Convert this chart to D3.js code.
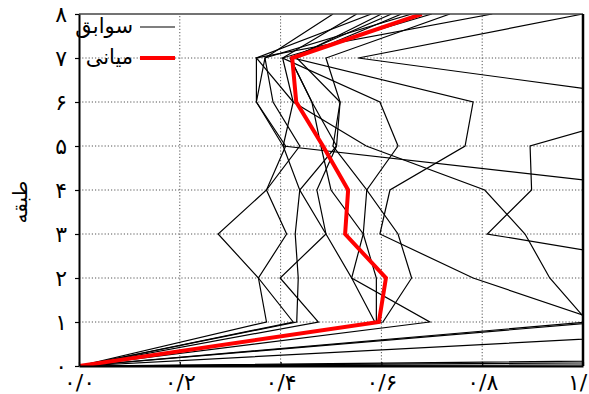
<!DOCTYPE html>
<html>
<head>
<meta charset="utf-8">
<script src="https://cdn.jsdelivr.net/npm/d3@7"></script>
<style>
  html, body { margin: 0; padding: 0; background: #fff; }
  svg { display: block; }
  text { font-family: "DejaVu Sans", sans-serif; fill: #000; }
</style>
</head>
<body>
<svg id="chart" width="589" height="394"></svg>
<script>
// Story levels (ground = 0) and their labels
const floors = [0, 1, 2, 3, 4, 5, 6, 7, 8];
const floorLabels = ["۰", "۱", "۲", "۳", "۴", "۵", "۶", "۷", "۸"];

// Horizontal axis ticks
const xTicks = [0, 0.2, 0.4, 0.6, 0.8, 1.0];
const xTickLabels = ["۰/۰", "۰/۲", "۰/۴", "۰/۶", "۰/۸", "۱/۰"];

// Individual record profiles, one value per floor (0..8)
const record01 = [0, 0.372, 0.356, 0.276, 0.372, 0.410, 0.352, 0.352, 0.580];
const record02 = [0, 0.425, 0.356, 0.412, 0.372, 0.438, 0.385, 0.369, 0.504];
const record03 = [0, 0.432, 0.435, 0.429, 0.438, 0.405, 0.425, 0.404, 0.551];
const record04 = [0, 0.475, 0.399, 0.490, 0.472, 0.511, 0.462, 0.419, 0.620];
const record05 = [0, 0.587, 0.541, 0.564, 0.571, 0.504, 0.518, 0.432, 0.640];
const record06 = [0, 0.603, 0.660, 0.633, 0.571, 0.633, 0.597, 0.404, 0.700];
const record07 = [0, 0.590, 0.590, 0.564, 0.500, 0.480, 0.462, 0.419, 0.680];
const record08 = [0, 0.696, 0.541, 0.490, 0.438, 0.511, 0.518, 0.490, 0.736];
const record09 = [0, 1.640, 1.340, 0.810, 0.898, 0.895, 1.200, 0.554, 1.000];
const record10 = [0, 1.010, 0.934, 0.885, 0.805, 0.570, 0.425, 0.352, 0.820];
const record11 = [0, 1.040, 0.782, 0.597, 0.617, 0.766, 0.782, 0.425, 0.600];
const record12 = [0, 9.000, 4.000, 2.500, 1.180, 0.405, 0.352, 0.369, 0.660];
const record13 = [0, 14.00, 8.000, 5.000, 3.000, 2.500, 2.200, 2.000, 1.800];
const record14 = [0, 40.00, 20.00, 10.00, 6.000, 4.000, 3.000, 2.500, 2.200];
const records = [record01, record02, record03, record04, record05, record06, record07,
                 record08, record09, record10, record11, record12, record13, record14];

// Median profile
const medianProfile = [0, 0.595, 0.609, 0.528, 0.534, 0.484, 0.431, 0.423, 0.680];

// Legend entries and titles
const legendRecords = "سوابق";
const legendMedian = "میانی";
const yTitle = "طبقه";

const svg = d3.select("#chart");
const margin = { left: 79, right: 6, top: 14, bottom: 28 };
const W = 589, H = 394;

const x = d3.scaleLinear().domain([0, 1]).range([margin.left, W - margin.right]);
const y = d3.scaleLinear().domain([0, 8]).range([H - margin.bottom, margin.top]);

// Clip region for the plot area
svg.append("defs").append("clipPath").attr("id", "plotClip")
  .append("rect")
  .attr("x", x(0)).attr("y", y(8))
  .attr("width", x(1) - x(0)).attr("height", y(0) - y(8));

// Dotted grid
const grid = svg.append("g").attr("class", "grid");
grid.selectAll("line.gx").data(xTicks.slice(1, -1)).join("line")
  .attr("x1", d => x(d)).attr("x2", d => x(d))
  .attr("y1", y(0)).attr("y2", y(8))
  .attr("stroke", "#555").attr("stroke-width", 1).attr("stroke-dasharray", "1.2,2");
grid.selectAll("line.gy").data(floors.slice(1, -1)).join("line")
  .attr("x1", x(0)).attr("x2", x(1))
  .attr("y1", d => y(d)).attr("y2", d => y(d))
  .attr("stroke", "#555").attr("stroke-width", 1).attr("stroke-dasharray", "1.2,2");

// Profile lines
const line = d3.line().x(d => x(d.v)).y(d => y(d.f));
const toPts = arr => arr.map((v, i) => ({ v, f: floors[i] }));

const plot = svg.append("g").attr("clip-path", "url(#plotClip)");
plot.selectAll("path.rec").data(records).join("path")
  .attr("class", "rec")
  .attr("d", d => line(toPts(d)))
  .attr("fill", "none").attr("stroke", "#000").attr("stroke-width", 1.2)
  .attr("stroke-linejoin", "miter");

plot.append("path")
  .attr("d", line(toPts(medianProfile)))
  .attr("fill", "none").attr("stroke", "#f00").attr("stroke-width", 4)
  .attr("stroke-linejoin", "miter");

// Frame
svg.append("line").attr("x1", x(0)).attr("x2", x(1)).attr("y1", y(8)).attr("y2", y(8))
  .attr("stroke", "#444").attr("stroke-width", 1.5);
svg.append("line").attr("x1", x(1)).attr("x2", x(1)).attr("y1", y(8)).attr("y2", y(0))
  .attr("stroke", "#000").attr("stroke-width", 2.5);

// Axes
const xAxis = d3.axisBottom(x).tickValues(xTicks).tickFormat((d, i) => xTickLabels[i])
  .tickSizeInner(-4).tickSizeOuter(0).tickPadding(8);
const gx = svg.append("g").attr("transform", `translate(0,${y(0)})`).call(xAxis);
gx.select(".domain").attr("stroke", "#000").attr("stroke-width", 2);
gx.selectAll(".tick line").attr("stroke", "#000").attr("stroke-width", 1.2);
gx.selectAll(".tick text").attr("font-size", 22).attr("font-family", "DejaVu Sans");

const yAxis = d3.axisLeft(y).tickValues(floors).tickFormat((d, i) => floorLabels[i])
  .tickSizeInner(4).tickSizeOuter(0).tickPadding(8);
const gy = svg.append("g").attr("transform", `translate(${x(0)},0)`).call(yAxis);
gy.select(".domain").attr("stroke", "#000").attr("stroke-width", 2);
gy.selectAll(".tick line").attr("stroke", "#000").attr("stroke-width", 1.2);
gy.selectAll(".tick text").attr("font-size", 22).attr("font-family", "DejaVu Sans");

// Y-axis title
svg.append("text")
  .attr("transform", `translate(27,${(y(0) + y(8)) / 2 + 12}) rotate(-90)`)
  .attr("text-anchor", "middle")
  .attr("font-size", 20)
  .text(yTitle);

// Legend
const legend = svg.append("g");
const legendItems = [
  { label: legendRecords, color: "#000", width: 1.2, yv: 27 },
  { label: legendMedian, color: "#f00", width: 4, yv: 58 }
];
legend.selectAll("line").data(legendItems).join("line")
  .attr("x1", 140).attr("x2", 175)
  .attr("y1", d => d.yv).attr("y2", d => d.yv)
  .attr("stroke", d => d.color).attr("stroke-width", d => d.width);
legend.selectAll("text").data(legendItems).join("text")
  .attr("x", 133).attr("y", d => d.yv + 6)
  .attr("text-anchor", "end")
  .attr("font-size", 21)
  .text(d => d.label);
</script>
</body>
</html>
